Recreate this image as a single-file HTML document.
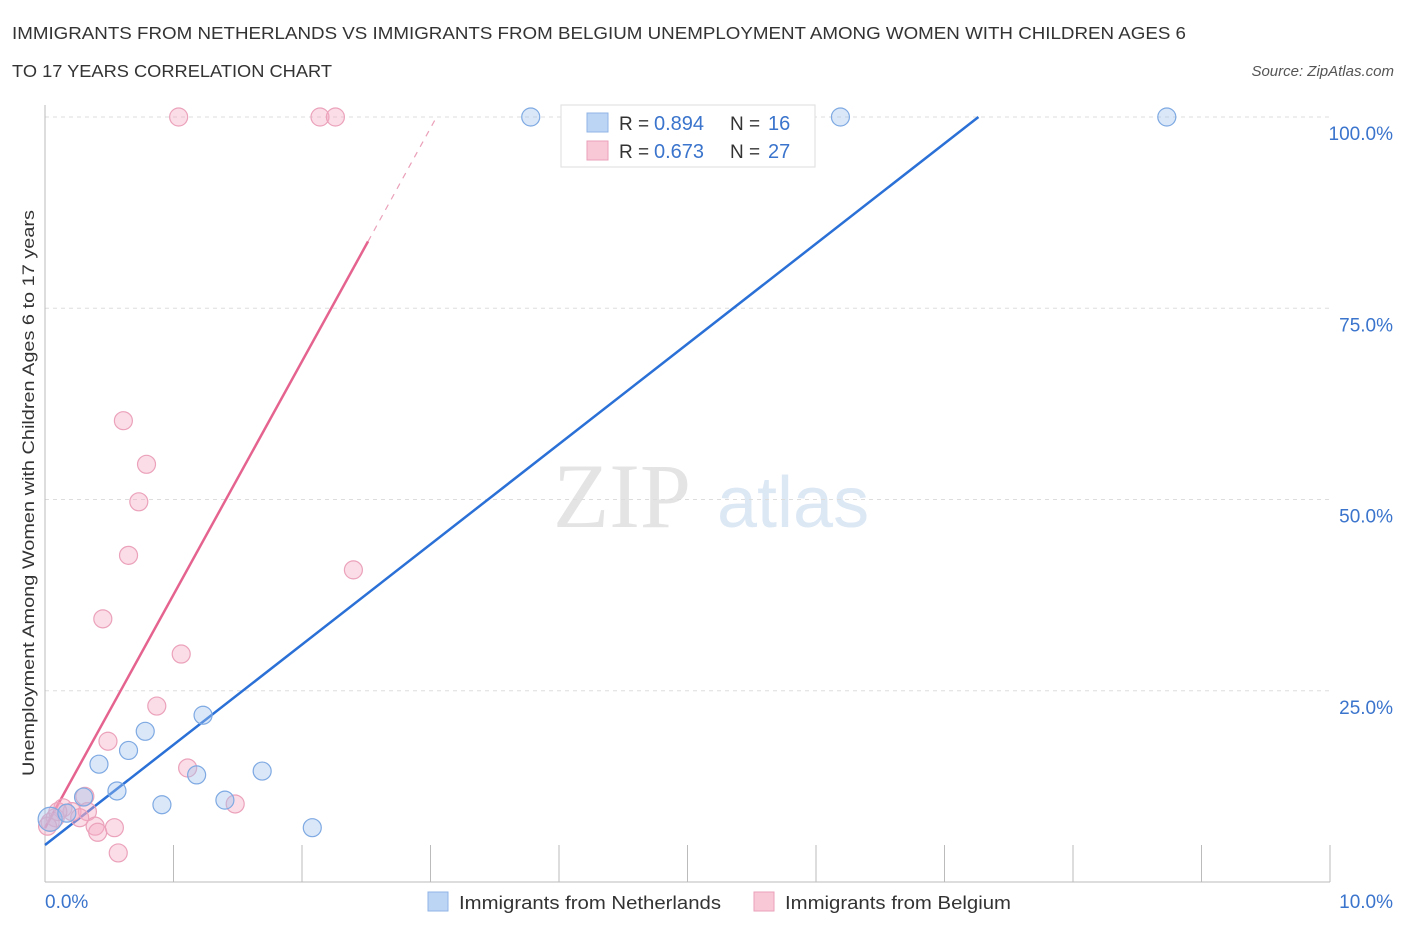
<!DOCTYPE html>
<html><head><meta charset="utf-8"><style>
body{margin:0;background:#fff;font-family:"Liberation Sans",sans-serif}
svg text{font-family:"Liberation Sans",sans-serif}
</style></head><body>
<svg id="c" width="1406" height="930" xmlns="http://www.w3.org/2000/svg">
<text x="12" y="39" font-size="17.5" fill="#333" textLength="1174" lengthAdjust="spacingAndGlyphs">IMMIGRANTS FROM NETHERLANDS VS IMMIGRANTS FROM BELGIUM UNEMPLOYMENT AMONG WOMEN WITH CHILDREN AGES 6</text>
<text x="12" y="77" font-size="17.5" fill="#333" textLength="320" lengthAdjust="spacingAndGlyphs">TO 17 YEARS CORRELATION CHART</text>
<text x="1394" y="76" font-size="15" fill="#555" font-style="italic" text-anchor="end">Source: ZipAtlas.com</text>
<text x="553" y="527" font-size="92" fill="#e4e4e4" font-family="Liberation Serif" style="font-family:'Liberation Serif',serif">ZIP</text>
<text x="717" y="527" font-size="72" fill="#dde8f5">atlas</text>
<text transform="translate(34,493) rotate(-90)" font-size="17" fill="#333" text-anchor="middle" textLength="566" lengthAdjust="spacingAndGlyphs">Unemployment Among Women with Children Ages 6 to 17 years</text>
<g id="grid"></g><g id="axes"></g><g id="lines"></g><g id="pts"></g>
<g>
<rect x="561" y="105" width="254" height="62" fill="#fff" stroke="#ddd"/>
<rect x="587" y="113" width="21" height="19" fill="#bcd5f5" stroke="#8fb4e6"/>
<text x="619" y="130" font-size="19" fill="#333">R =</text>
<text x="654" y="130" font-size="20" fill="#3a74cc">0.894</text>
<text x="730" y="130" font-size="19" fill="#333">N =</text>
<text x="768" y="130" font-size="20" fill="#3a74cc">16</text>
<rect x="587" y="141" width="21" height="19" fill="#f9c8d7" stroke="#eaa0b8"/>
<text x="619" y="158" font-size="19" fill="#333">R =</text>
<text x="654" y="158" font-size="20" fill="#3a74cc">0.673</text>
<text x="730" y="158" font-size="19" fill="#333">N =</text>
<text x="768" y="158" font-size="20" fill="#3a74cc">27</text>
</g>
<g>
<rect x="428" y="892" width="20" height="19" fill="#bcd5f5" stroke="#8fb4e6"/>
<text x="459" y="909" font-size="18" fill="#333" textLength="262" lengthAdjust="spacingAndGlyphs">Immigrants from Netherlands</text>
<rect x="754" y="892" width="20" height="19" fill="#f9c8d7" stroke="#eaa0b8"/>
<text x="785" y="909" font-size="18" fill="#333" textLength="226" lengthAdjust="spacingAndGlyphs">Immigrants from Belgium</text>
</g>
</svg>
<script>
const yTicks=[25,50,75,100];
const yTickLabels=["25.0%","50.0%","75.0%","100.0%"];
const xTickValues=[0,1,2,3,4,5,6,7,8,9,10];
const nlX=[3.78,6.19,8.73,1.23,0.78,0.65,0.42,1.18,1.69,0.56,0.30,0.91,1.40,2.08,0.04,0.17];
const nlY=[100,100,100,21.8,19.7,17.2,15.4,14.0,14.5,11.9,11.1,10.1,10.7,7.1,8.2,9.0];
const beX=[1.04,2.14,2.26,0.61,0.79,0.73,0.65,0.45,2.40,1.06,0.87,0.49,1.11,1.48,0.31,0.14,0.21,0.33,0.27,0.39,0.41,0.54,0.57,0.04,0.08,0.02,0.10];
const beY=[100,100,100,60.3,54.6,49.7,42.7,34.4,40.8,29.8,23.0,18.4,14.9,10.2,11.2,9.7,9.2,9.2,8.4,7.3,6.5,7.1,3.8,7.8,8.4,7.3,9.2];
const nlFit=[4.84,13.1];
const beFit=[7.06,30.5];
const NS="http://www.w3.org/2000/svg";
const X=v=>45+v*128.5, Y=v=>882-v*7.65;
function mk(p,t,a){const e=document.createElementNS(NS,t);for(const k in a)e.setAttribute(k,a[k]);document.getElementById(p).appendChild(e);return e;}
yTicks.forEach((t,i)=>{
 const g=mk('grid','line',{x1:45,x2:1330,y1:Y(t),y2:Y(t),stroke:'#ddd','stroke-dasharray':'4,4'});
 
 
 const l=mk('grid','text',{x:1393,y:Y(t)+23,'font-size':19,fill:'#3a74cc','text-anchor':'end'});
 l.textContent=yTickLabels[i];
 
 
});
const ax=mk('axes','line',{x1:45,x2:45,y1:105,y2:882,stroke:'#bbb'});


const bx=mk('axes','line',{x1:45,x2:1330,y1:882,y2:882,stroke:'#bbb'});


xTickValues.forEach(v=>{
 const t=mk('axes','line',{x1:X(v),x2:X(v),y1:845,y2:882,stroke:'#bbb'});
 
 
});
const x0=mk('axes','text',{x:45,y:908,'font-size':19,fill:'#3a74cc'});x0.textContent='0.0%';


const x1=mk('axes','text',{x:1393,y:908,'font-size':19,fill:'#3a74cc','text-anchor':'end'});x1.textContent='10.0%';


const nlEnd=(100-nlFit[0])/nlFit[1];
const ln=mk('lines','line',{x1:X(0),y1:Y(nlFit[0]),x2:X(nlEnd),y2:Y(100),stroke:'#2a70d6','stroke-width':2.5});


const beSolid=2.514, beEnd=(100-beFit[0])/beFit[1];
const lb=mk('lines','line',{x1:X(0),y1:Y(beFit[0]),x2:X(beSolid),y2:Y(beFit[0]+beFit[1]*beSolid),stroke:'#e5648f','stroke-width':2.5});


const lbd=mk('lines','line',{x1:X(beSolid),y1:Y(beFit[0]+beFit[1]*beSolid),x2:X(beEnd),y2:Y(100),stroke:'#eaa0b8','stroke-width':1.2,'stroke-dasharray':'6,6'});


beX.forEach((v,i)=>{
 const c=mk('pts','circle',{cx:X(v),cy:Y(beY[i]),r:9,fill:'rgba(246,170,195,0.4)',stroke:'#eba2ba','stroke-width':1.2});
 
 
});
nlX.forEach((v,i)=>{
 const c=mk('pts','circle',{cx:X(v),cy:Y(nlY[i]),r:i==14?12:9,fill:'rgba(160,195,240,0.4)',stroke:'#7ea9e2','stroke-width':1.2});
 
 
});
</script>
</body></html>
